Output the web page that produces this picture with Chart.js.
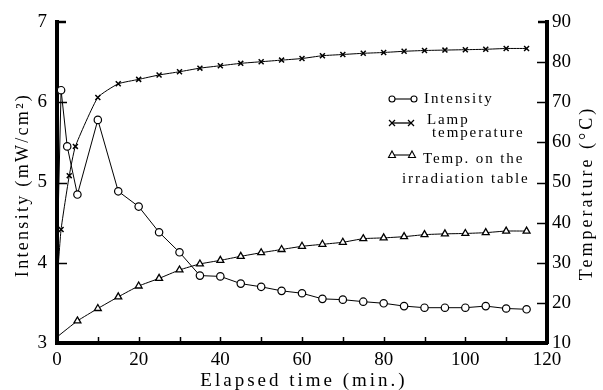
<!DOCTYPE html>
<html><head><meta charset="utf-8">
<script src="https://cdn.jsdelivr.net/npm/chart.js@4/dist/chart.umd.min.js"></script>
<style>html,body{margin:0;padding:0;background:#fff}</style>
</head><body>
<canvas id="c" width="603" height="390" style="width:603px;height:390px;display:block"></canvas>
<script>
// ---- data ----
const intensityTime   = [0, 1, 2.5, 5, 10, 15, 20, 25, 30, 35, 40, 45, 50, 55, 60, 65, 70, 75, 80, 85, 90, 95, 100, 105, 110, 115];
const intensityValues = [4.0, 6.15, 5.45, 4.85, 5.78, 4.89, 4.70, 4.38, 4.13, 3.84, 3.83, 3.74, 3.70, 3.65, 3.62, 3.55, 3.54, 3.515, 3.495, 3.46, 3.44, 3.44, 3.44, 3.46, 3.43, 3.42];
const lampTime   = [0, 1, 3, 4.5, 10, 15, 20, 25, 30, 35, 40, 45, 50, 55, 60, 65, 70, 75, 80, 85, 90, 95, 100, 105, 110, 115];
const lampValues = [25, 38.3, 51.7, 59.0, 71.2, 74.6, 75.7, 76.8, 77.6, 78.5, 79.1, 79.7, 80.1, 80.5, 80.9, 81.6, 81.9, 82.2, 82.4, 82.7, 82.9, 83.0, 83.1, 83.2, 83.4, 83.4];
const tableTime   = [0, 5, 10, 15, 20, 25, 30, 35, 40, 45, 50, 55, 60, 65, 70, 75, 80, 85, 90, 95, 100, 105, 110, 115];
const tableValues = [11.5, 15.5, 18.6, 21.5, 24.2, 26.1, 28.2, 29.7, 30.6, 31.6, 32.5, 33.3, 34.1, 34.6, 35.1, 36.0, 36.2, 36.5, 37.0, 37.2, 37.3, 37.5, 37.9, 37.9];
const xTicks = [0, 20, 40, 60, 80, 100, 120];
const leftTicks = [3, 4, 5, 6, 7];
const rightTicks = [10, 20, 30, 40, 50, 60, 70, 80, 90];
const seriesNames = ['Intensity', 'Lamp temperature', 'Temp. on the irradiation table'];

const pts = (xs, ys) => xs.map((x, i) => ({x: x, y: ys[i]}));
const radii = (xs, r) => xs.map(x => x === 0 ? 0 : r);
const SERIF = '"Liberation Serif", "DejaVu Serif", serif';

function seg(ctx, x1, y1, x2, y2) { ctx.beginPath(); ctx.moveTo(x1, y1); ctx.lineTo(x2, y2); ctx.stroke(); }
function mCircle(ctx, x, y) { ctx.beginPath(); ctx.arc(x, y, 3, 0, Math.PI * 2); ctx.fillStyle = '#fff'; ctx.fill(); ctx.stroke(); }
function mCross(ctx, x, y) { const r = 3; seg(ctx, x - r, y - r, x + r, y + r); seg(ctx, x - r, y + r, x + r, y - r); }
function mTri(ctx, x, y) { ctx.beginPath(); ctx.moveTo(x, y - 4); ctx.lineTo(x + 3.5, y + 2.5); ctx.lineTo(x - 3.5, y + 2.5); ctx.closePath(); ctx.fillStyle = '#fff'; ctx.fill(); ctx.stroke(); }

const decor = {
  id: 'decor',
  afterDraw(chart) {
    const ctx = chart.ctx, a = chart.chartArea;
    const sx = chart.scales.x, sy = chart.scales.y, sy2 = chart.scales.y2;
    ctx.save();
    ctx.strokeStyle = '#000';
    ctx.lineWidth = 1.5;
    // inward ticks, left axis
    leftTicks.slice(1, -1).forEach(v => { const y = Math.round(sy.getPixelForValue(v)) + 0.5; seg(ctx, a.left, y, a.left + 10, y); });
    ctx.lineWidth = 2.5;
    seg(ctx, a.left - 2, a.top, a.left + 9, a.top);
    seg(ctx, a.right + 2, a.top, a.right - 9, a.top);
    ctx.lineWidth = 1.5;
    rightTicks.slice(1, -1).forEach(v => { const y = Math.round(sy2.getPixelForValue(v)) + 0.5; seg(ctx, a.right, y, a.right - 10, y); });
    for (let v = 10; v < 120; v += 10) { const x = Math.round(sx.getPixelForValue(v)) + 0.5; seg(ctx, x, a.bottom, x, a.bottom - 6); }

    // axis titles
    ctx.fillStyle = '#000';
    ctx.textBaseline = 'middle';
    ctx.textAlign = 'left';
    ctx.font = '19px ' + SERIF;
    ctx.letterSpacing = '3px';
    let t = 'Elapsed time (min.)';
    let w = ctx.measureText(t).width;
    ctx.fillText(t, (a.left + a.right) / 2 - w / 2 + 2, 381);

    ctx.font = '18px ' + SERIF;
    ctx.letterSpacing = '2.3px';
    t = 'Intensity (mW/cm²)';
    w = ctx.measureText(t).width;
    ctx.save(); ctx.translate(23, 185); ctx.rotate(-Math.PI / 2); ctx.fillText(t, -w / 2, 0); ctx.restore();

    ctx.letterSpacing = '3px';
    t = 'Temperature (°C)';
    w = ctx.measureText(t).width;
    ctx.save(); ctx.translate(587, 193); ctx.rotate(-Math.PI / 2); ctx.fillText(t, -w / 2, 0); ctx.restore();

    // legend
    ctx.lineWidth = 1.1;
    ctx.strokeStyle = '#000';
    seg(ctx, 392, 99, 414, 99); mCircle(ctx, 392, 99); mCircle(ctx, 414, 99);
    ctx.lineWidth = 1.3;
    seg(ctx, 392, 123, 411, 123); mCross(ctx, 392, 123); mCross(ctx, 411, 123);
    ctx.lineWidth = 1.1;
    seg(ctx, 392, 155, 412, 155); mTri(ctx, 392, 155); mTri(ctx, 412, 155);
    ctx.fillStyle = '#000';
    ctx.font = '15px ' + SERIF;
    ctx.letterSpacing = '1.9px';
    ctx.fillText('Intensity', 424, 99);
    ctx.fillText('Lamp', 427, 120);
    ctx.fillText('temperature', 432, 133);
    ctx.fillText('Temp. on the', 423, 159);
    ctx.fillText('irradiation table', 402, 179);
    ctx.restore();
  }
};

const tickFont = {family: SERIF, size: 19};

new Chart(document.getElementById('c'), {
  type: 'line',
  data: {
    datasets: [
      { label: seriesNames[0], data: pts(intensityTime, intensityValues), yAxisID: 'y',
        borderColor: '#000', borderWidth: 1, backgroundColor: '#fff',
        pointStyle: 'circle', pointRadius: radii(intensityTime, 3.7), pointBorderWidth: 1.2,
        pointBackgroundColor: '#fff', pointBorderColor: '#000', tension: 0 },
      { label: seriesNames[1], data: pts(lampTime, lampValues), yAxisID: 'y2',
        borderColor: '#000', borderWidth: 1, backgroundColor: '#fff',
        pointStyle: 'crossRot', pointRadius: radii(lampTime, 3.5), pointBorderWidth: 1.5,
        pointBorderColor: '#000', tension: 0.15 },
      { label: seriesNames[2], data: pts(tableTime, tableValues), yAxisID: 'y2',
        borderColor: '#000', borderWidth: 1, backgroundColor: '#fff',
        pointStyle: 'triangle', pointRadius: radii(tableTime, 4), pointBorderWidth: 1.3,
        pointBackgroundColor: '#fff', pointBorderColor: '#000', tension: 0.15 }
    ]
  },
  options: {
    responsive: false,
    animation: false,
    events: [],
    layout: { padding: { top: 22, left: 0, right: 0, bottom: 0 } },
    plugins: { legend: { display: false }, tooltip: { enabled: false } },
    scales: {
      x: {
        type: 'linear', min: 0, max: 120,
        afterBuildTicks: s => { s.ticks = xTicks.map(v => ({value: v})); },
        ticks: { font: tickFont, color: '#000', padding: 6, maxRotation: 0 },
        grid: { display: false, drawTicks: false },
        border: { display: true, width: 4, color: '#000' },
        afterFit: s => { s.height = 47; }
      },
      y: {
        position: 'left', min: 3, max: 7,
        afterBuildTicks: s => { s.ticks = leftTicks.map(v => ({value: v})); },
        ticks: { font: tickFont, color: '#000', padding: 10 },
        grid: { display: false, drawTicks: false },
        border: { display: true, width: 4, color: '#000' },
        afterFit: s => { s.width = 57; }
      },
      y2: {
        position: 'right', min: 10, max: 90,
        afterBuildTicks: s => { s.ticks = rightTicks.map(v => ({value: v})); },
        ticks: { font: tickFont, color: '#000', padding: 5 },
        grid: { display: false, drawTicks: false },
        border: { display: true, width: 4, color: '#000' },
        afterFit: s => { s.width = 56; }
      }
    }
  },
  plugins: [decor]
});
</script>
</body></html>
